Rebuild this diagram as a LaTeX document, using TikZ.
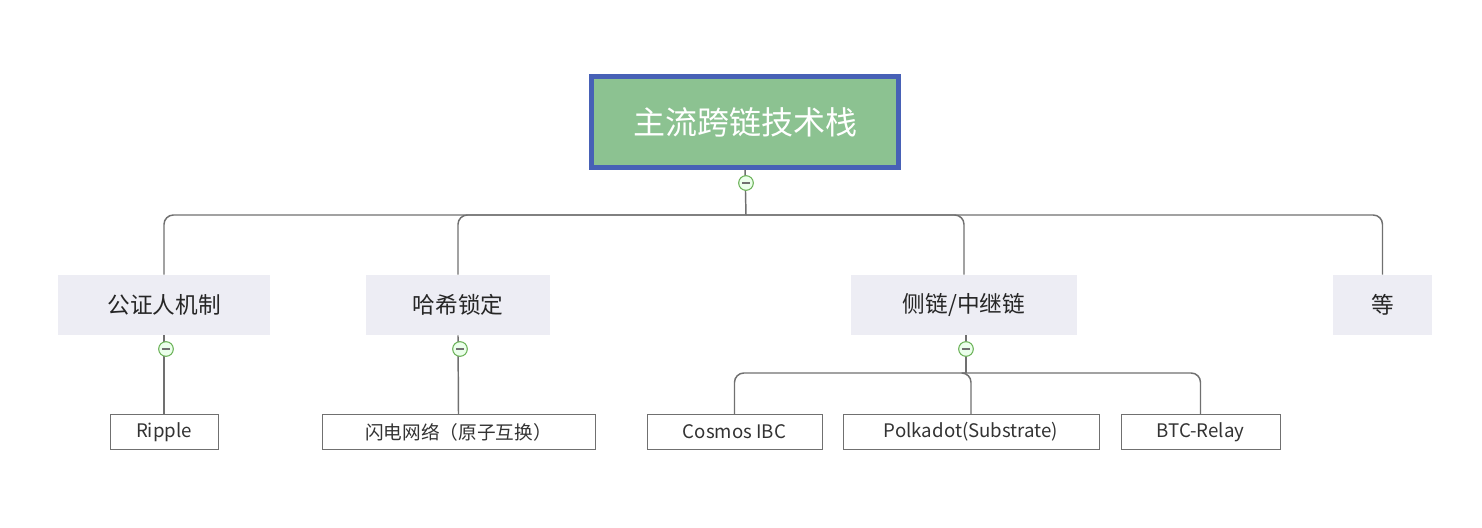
\documentclass[tikz,border=0pt]{standalone}
\usepackage{fontspec}
\setmainfont{Noto Sans CJK SC}
\usetikzlibrary{positioning,calc}
\definecolor{rootgreen}{HTML}{8CC291}
\definecolor{rootblue}{HTML}{4761B6}
\definecolor{catfill}{HTML}{EDEDF4}
\definecolor{linegray}{HTML}{707070}
\definecolor{foldgreen}{HTML}{6DB35A}
\tikzset{
    root/.style = {
        draw = rootblue,
        line width = 3.5pt,
        fill = rootgreen,
        text = white,
        minimum width = 230pt,
        minimum height = 68pt,
        font = \fontsize{24}{28}\selectfont,
        },
    topic/.style = {
        fill = catfill,
        text = black!85,
        minimum height = 45pt,
        font = \fontsize{17}{20}\selectfont,
        },
    leaf/.style = {
        draw = linegray,
        fill = white,
        text = black!80,
        minimum height = 26pt,
        font = \fontsize{14}{17}\selectfont,
        },
    link/.style = {
        draw = linegray,
        line width = 1.1pt,
        rounded corners = 7pt,
        },
    fold/.style = {
        circle,
        draw = foldgreen,
        fill = green!8,
        line width = 0.8pt,
        minimum size = 11pt,
        inner sep = 0pt,
        path picture = {\draw[linegray, line width=0.8pt] ($(path picture bounding box.west)+(2.5pt,0)$) -- ($(path picture bounding box.east)-(2.5pt,0)$);},
        },
}
\begin{document}
\begin{tikzpicture}[x=0.75pt, y=-0.75pt]
            \useasboundingbox (0,0) rectangle (1482,528);

            \node[root] (root) at (745,122) {主流跨链技术栈};

            \node[topic, minimum width=159pt] (notary) at (164,305) {公证人机制};
            \node[topic, minimum width=138pt] (hash) at (458,305) {哈希锁定};
            \node[topic, minimum width=170pt] (side) at (964,305) {侧链/中继链};
            \node[topic, minimum width=74pt] (etc) at (1382.5,305) {等};

            \node[leaf, minimum width=81pt] (ripple) at (164,432) {Ripple};
            \node[leaf, minimum width=205pt] (lightning) at (458.5,432) {闪电网络（原子互换）};
            \node[leaf, minimum width=131pt] (cosmos) at (734.5,432) {Cosmos IBC};
            \node[leaf, minimum width=192pt] (polka) at (971,432) {Polkadot(Substrate)};
            \node[leaf, minimum width=119pt] (btc) at (1200.5,432) {BTC-Relay};

            % connectors
            \coordinate (bus) at (746,215);
            \coordinate (sidebus) at (966,373);
            \path[link] (root.south) -- (bus);
            \path[link] (bus) -| (notary.north);
            \path[link] (bus) -| (hash.north);
            \path[link] (bus) -| (side.north);
            \path[link] (bus) -| (etc.north);
            \path[link] (notary.south) -- (ripple.north);
            \path[link] (hash.south) -- (lightning.north);
            \path[link] (side.south -| sidebus) -- (sidebus);
            \path[link] (sidebus) -| (cosmos.north);
            \path[link] (sidebus) -| (polka.north);
            \path[link] (sidebus) -| (btc.north);

            \node[fold] at (746,183) {};
            \node[fold] at (166,349) {};
            \node[fold] at (460,349) {};
            \node[fold] at (966,349) {};
        \end{tikzpicture}
\end{document}
